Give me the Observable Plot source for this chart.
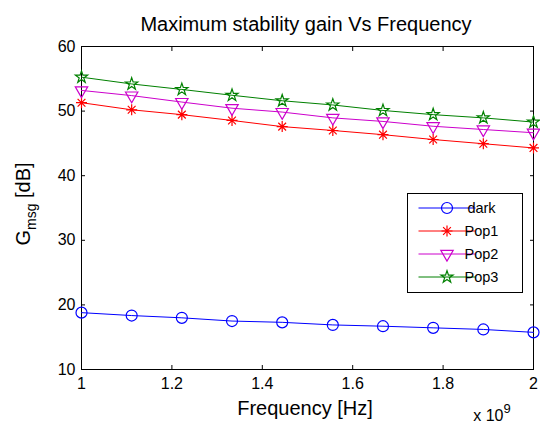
<!DOCTYPE html>
<html>
<head>
<meta charset="utf-8">
<script src="https://cdn.jsdelivr.net/npm/d3@7"></script>
<script src="https://cdn.jsdelivr.net/npm/@observablehq/plot@0.6"></script>
<style>
  html, body { margin: 0; padding: 0; background: #fff; }
  #chart { position: relative; width: 540px; height: 423px; }
  svg { font-family: "Liberation Sans", Arial, sans-serif; }
</style>
</head>
<body>
<div id="chart"></div>
<script>
// Frequency in units of 1e9 Hz
const freq = [1, 1.111, 1.222, 1.333, 1.444, 1.556, 1.667, 1.778, 1.889, 2];
const dark = [18.8, 18.35, 18.0, 17.5, 17.3, 16.9, 16.7, 16.45, 16.2, 15.75];
const pop1 = [51.3, 50.2, 49.45, 48.55, 47.6, 47.0, 46.35, 45.6, 44.95, 44.3];
const pop2 = [53.2, 52.4, 51.4, 50.45, 49.85, 48.95, 48.4, 47.65, 47.15, 46.65];
const pop3 = [55.25, 54.2, 53.35, 52.45, 51.6, 50.95, 50.1, 49.45, 48.95, 48.3];
const seriesNames = ["dark", "Pop1", "Pop2", "Pop3"];
const seriesValues = [dark, pop1, pop2, pop3];
const seriesColors = ["#0000ff", "#ff0000", "#cc00cc", "#008000"];
const seriesRotate = [0, 0, 180, 0];
const seriesR = [5.5, 5.5, 4.6, 3.8];
const xTicks = [1, 1.2, 1.4, 1.6, 1.8, 2];
const yTicks = [10, 20, 30, 40, 50, 60];

// MATLAB-style 8-armed asterisk
const asterisk8 = {
  draw(ctx, size) {
    const r = Math.sqrt(size / Math.PI);
    const d = r * Math.SQRT1_2;
    ctx.moveTo(-r, 0); ctx.lineTo(r, 0);
    ctx.moveTo(0, -r); ctx.lineTo(0, r);
    ctx.moveTo(-d, -d); ctx.lineTo(d, d);
    ctx.moveTo(-d, d); ctx.lineTo(d, -d);
  }
};
const seriesSymbols = [d3.symbolCircle, asterisk8, d3.symbolTriangle, d3.symbolStar];

const rows = [];
seriesNames.forEach((name, i) => {
  freq.forEach((f, j) => rows.push({series: name, f, g: seriesValues[i][j]}));
});

const marks = [Plot.frame({stroke: "#000", strokeWidth: 1})];
seriesNames.forEach((name, i) => {
  const data = rows.filter(r => r.series === name);
  marks.push(Plot.line(data, {x: "f", y: "g", stroke: seriesColors[i], strokeWidth: 1}));
  marks.push(Plot.dot(data, {x: "f", y: "g", stroke: seriesColors[i], fill: "none",
    symbol: seriesSymbols[i], rotate: seriesRotate[i], r: seriesR[i], strokeWidth: 1.2}));
});

const chart = Plot.plot({
  width: 540,
  height: 423,
  marginLeft: 81,
  marginRight: 7,
  marginTop: 46,
  marginBottom: 54,
  style: {fontFamily: "Liberation Sans, Arial, sans-serif", fontSize: "16px", color: "#000", background: "#fff"},
  x: {domain: [1, 2]},
  y: {domain: [10, 60]},
  marks: [
    ...marks,
    Plot.axisX({ticks: xTicks, tickSize: -4, tickPadding: 12, label: null, tickFormat: d => String(d), fontSize: 16}),
    Plot.axisX({anchor: "top", ticks: xTicks, tickSize: -4, label: null, tickFormat: () => ""}),
    Plot.axisY({ticks: yTicks, tickSize: -4, tickPadding: 10, label: null, fontSize: 16}),
    Plot.axisY({anchor: "right", ticks: yTicks, tickSize: -4, label: null, tickFormat: () => ""})
  ]
});

document.getElementById("chart").appendChild(chart);
const svg = d3.select(chart);

// Title
svg.append("text").attr("x", 306).attr("y", 31).attr("text-anchor", "middle")
  .attr("font-size", 20).attr("fill", "#000").text("Maximum stability gain Vs Frequency");

// X label
svg.append("text").attr("x", 305).attr("y", 415).attr("text-anchor", "middle")
  .attr("font-size", 20).attr("fill", "#000").text("Frequency [Hz]");

// x 10^9
const mult = svg.append("text").attr("x", 492).attr("y", 421).attr("font-size", 16).attr("fill", "#000");
mult.append("tspan").text("x 10");
mult.append("tspan").attr("dy", -8).attr("font-size", 13).text("9");

// Y label
const yl = svg.append("text").attr("transform", "translate(30,204) rotate(-90)")
  .attr("text-anchor", "middle").attr("font-size", 20).attr("fill", "#000");
yl.append("tspan").text("G");
yl.append("tspan").attr("dy", 6).attr("font-size", 14).text("msg");
yl.append("tspan").attr("dy", -6).text(" [dB]");

// Legend
const lg = svg.append("g").attr("transform", "translate(407.5,193.5)");
lg.append("rect").attr("width", 115).attr("height", 99).attr("fill", "#fff").attr("stroke", "#000");
seriesNames.forEach((name, i) => {
  const y = 14.5 + i * 23;
  lg.append("line").attr("x1", 11).attr("x2", 68).attr("y1", y).attr("y2", y)
    .attr("stroke", seriesColors[i]).attr("stroke-width", 1);
  lg.append("path").attr("d", d3.symbol(seriesSymbols[i], Math.PI * seriesR[i] * seriesR[i])())
    .attr("transform", `translate(39.5,${y}) rotate(${seriesRotate[i]})`)
    .attr("fill", "none").attr("stroke", seriesColors[i]).attr("stroke-width", 1.2);
  lg.append("text").attr("x", 74).attr("y", y + 5).attr("font-size", 14.5).attr("fill", "#000").text(name);
});
</script>
</body>
</html>
